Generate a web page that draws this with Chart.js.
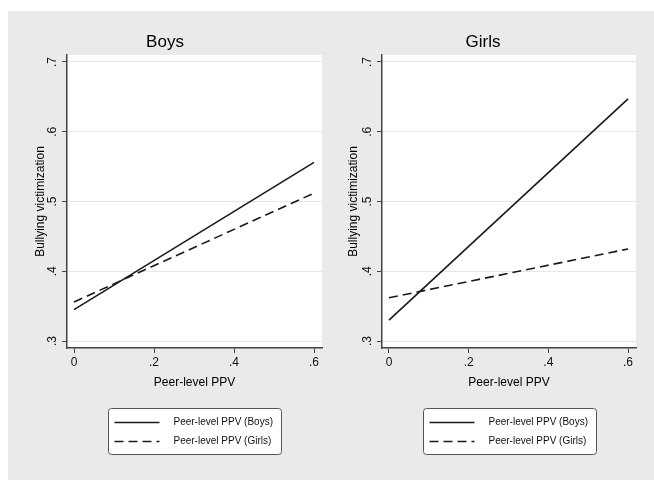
<!DOCTYPE html>
<html>
<head>
<meta charset="utf-8">
<script src="https://cdn.jsdelivr.net/npm/chart.js@4.4.1/dist/chart.umd.min.js"></script>
<style>
  body { margin: 0; background: #fff; }
  #frame { position: absolute; left: 8px; top: 11px; width: 646px; height: 469px; background: #eaeaea; }
  #boysChart { position: absolute; left: 0; top: 0; }
  #girlsChart { position: absolute; left: 322px; top: 0; }
</style>
</head>
<body>
<div id="frame">
  <canvas id="boysChart" width="322" height="469"></canvas>
  <canvas id="girlsChart" width="324" height="469"></canvas>
</div>
<script>
// Data
const panelTitles = ["Boys", "Girls"];
const seriesLabels = ["Peer-level PPV (Boys)", "Peer-level PPV (Girls)"];
const ppvValues = [0, 0.6];
const boysPanelBoys = [0.345, 0.556];
const boysPanelGirls = [0.356, 0.512];
const girlsPanelBoys = [0.330, 0.647];
const girlsPanelGirls = [0.362, 0.432];
const xTicks = [0, 0.2, 0.4, 0.6];
const xTickLabels = ["0", ".2", ".4", ".6"];
const yTicks = [0.3, 0.4, 0.5, 0.6, 0.7];
const yTickLabels = [".3", ".4", ".5", ".6", ".7"];

const FONT = "'Liberation Sans', Arial, sans-serif";
Chart.defaults.font.family = FONT;
Chart.defaults.color = "#111";

// White plot region
const plotBackground = {
    id: "plotBackground",
    beforeDraw(chart) {
        const { ctx, chartArea: a } = chart;
        ctx.save();
        ctx.fillStyle = "#fff";
        ctx.fillRect(a.left, a.top, a.right - a.left, a.bottom - a.top);
        ctx.restore();
    }
};

// Stata style vertical y tick labels
const yTickText = {
    id: "yTickText",
    afterDraw(chart) {
        const scale = chart.scales.y;
        const ctx = chart.ctx;
        ctx.save();
        ctx.font = "12px " + FONT;
        ctx.fillStyle = "#111";
        ctx.textAlign = "center";
        ctx.textBaseline = "middle";
        yTicks.forEach((v, i) => {
            ctx.save();
            ctx.translate(scale.right - 14, scale.getPixelForValue(v));
            ctx.rotate(-Math.PI / 2);
            ctx.fillText(yTickLabels[i], 0, 0);
            ctx.restore();
        });
        ctx.restore();
    }
};

// Boxed legend under the plot
const boxLegend = {
    id: "boxLegend",
    afterDraw(chart) {
        const { ctx, chartArea: a } = chart;
        const w = 173, h = 46;
        const left = Math.round((a.left + a.right) / 2 - w / 2) + 0.5;
        const top = a.bottom + 60.5;
        ctx.save();
        ctx.fillStyle = "#fff";
        ctx.strokeStyle = "#555";
        ctx.lineWidth = 1;
        ctx.beginPath();
        ctx.roundRect(left, top, w, h, 3);
        ctx.fill();
        ctx.stroke();
        chart.data.datasets.forEach((ds, i) => {
            const y = top + 14 + i * 19;
            ctx.strokeStyle = ds.borderColor;
            ctx.lineWidth = ds.borderWidth;
            ctx.setLineDash(ds.borderDash || []);
            ctx.beginPath();
            ctx.moveTo(left + 6, y);
            ctx.lineTo(left + 51, y);
            ctx.stroke();
            ctx.setLineDash([]);
            ctx.fillStyle = "#111";
            ctx.font = "10px " + FONT;
            ctx.textBaseline = "middle";
            ctx.fillText(ds.label, left + 65, y);
        });
        ctx.restore();
    }
};

function toPoints(values) {
    return ppvValues.map((x, i) => ({ x: x, y: values[i] }));
}

function makeChart(canvas, title, solidValues, dashedValues, areaLeft, yTitlePad, rightPad) {
    return new Chart(canvas, {
        type: "line",
        data: {
            datasets: [
                {
                    label: seriesLabels[0],
                    data: toPoints(solidValues),
                    borderColor: "#1a1a1a",
                    borderWidth: 1.6,
                    borderDash: [],
                    pointRadius: 0
                },
                {
                    label: seriesLabels[1],
                    data: toPoints(dashedValues),
                    borderColor: "#1a1a1a",
                    borderWidth: 1.6,
                    borderDash: [9, 5],
                    pointRadius: 0
                }
            ]
        },
        options: {
            responsive: false,
            animation: false,
            layout: { padding: { left: 0, right: rightPad, top: 0, bottom: 82 } },
            plugins: {
                legend: { display: false },
                tooltip: { enabled: false },
                title: {
                    display: true,
                    text: title,
                    color: "#000",
                    font: { size: 17, weight: "normal" },
                    padding: { top: 21.6, bottom: 2 }
                }
            },
            scales: {
                x: {
                    type: "linear",
                    min: -0.0175,
                    max: 0.62,
                    afterBuildTicks: s => { s.ticks = xTicks.map(v => ({ value: v })); },
                    afterFit: s => { s.height = 50; },
                    ticks: {
                        autoSkip: false,
                        maxRotation: 0,
                        padding: 2,
                        font: { size: 12 },
                        color: "#111",
                        callback: (v, i) => xTickLabels[i]
                    },
                    grid: { drawOnChartArea: false, tickColor: "#444", tickLength: 5 },
                    border: { color: "#444", width: 1.5 },
                    title: {
                        display: true,
                        text: "Peer-level PPV",
                        color: "#000",
                        font: { size: 12 },
                        padding: { top: 0, bottom: 8 }
                    }
                },
                y: {
                    min: 0.29,
                    max: 0.71,
                    afterBuildTicks: s => { s.ticks = yTicks.map(v => ({ value: v })); },
                    afterFit: s => { s.width = areaLeft; },
                    ticks: { display: false },
                    grid: { color: "#e6e6e6", tickColor: "#444", tickLength: 5 },
                    border: { color: "#444", width: 1.5 },
                    title: {
                        display: true,
                        text: "Bullying victimization",
                        color: "#000",
                        font: { size: 12 },
                        padding: { top: yTitlePad, bottom: 0 }
                    }
                }
            }
        },
        plugins: [plotBackground, yTickText, boxLegend]
    });
}

makeChart(document.getElementById("boysChart"), panelTitles[0], boysPanelBoys, boysPanelGirls, 59, 25, 8);
makeChart(document.getElementById("girlsChart"), panelTitles[1], girlsPanelBoys, girlsPanelGirls, 52, 16, 18);
</script>
</body>
</html>
